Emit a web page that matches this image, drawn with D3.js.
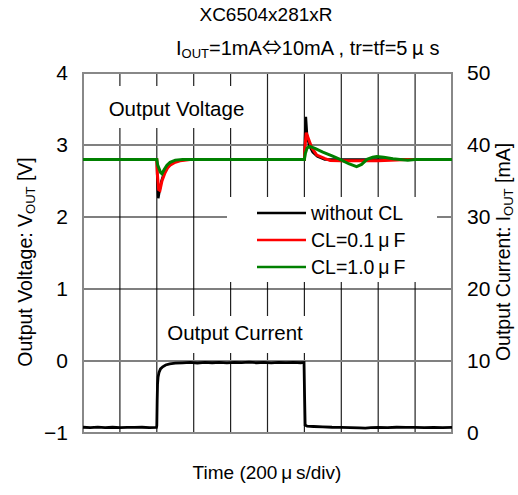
<!DOCTYPE html>
<html><head><meta charset="utf-8">
<script src="https://cdn.jsdelivr.net/npm/d3@7"></script>
<style>
html,body{margin:0;padding:0;background:#fff;}
text{font-family:"Liberation Sans","Noto Sans CJK JP",sans-serif;fill:#000;}
.cjk{font-family:"Noto Sans CJK JP",sans-serif;}
</style></head>
<body>
<svg id="chart" width="518" height="495"></svg>
<script>
// ---- data ----
const voltTicks = [-1, 0, 1, 2, 3, 4];
const currTicks = [0, 10, 20, 30, 40, 50];
const divTimes = [200, 400, 600, 800, 1000, 1200, 1400, 1600, 1800]; // us

const blackT = [0,400,403,408,414,425,440,460,490,530,580,1200,1203,1208,1214,1225,1245,1270,1310,2000];
const blackV = [2.8,2.8,2.5,2.26,2.35,2.5,2.62,2.7,2.76,2.79,2.8,2.8,3.1,3.39,3.15,3.0,2.9,2.84,2.8,2.8];

const redT = [0,400,403,410,417,428,444,458,472,500,526,580,1200,1204,1210,1220,1240,1267,1312,1340,1400,1600,1700,1750,2000];
const redV = [2.8,2.8,2.6,2.38,2.37,2.5,2.61,2.68,2.72,2.76,2.78,2.8,2.8,3.0,3.17,3.1,2.96,2.86,2.81,2.785,2.78,2.78,2.79,2.8,2.8];

const greenT = [0,400,405,420,428,440,455,472,500,540,1200,1205,1215,1230,1260,1300,1350,1393,1440,1483,1510,1539,1570,1592,1630,1680,1718,1760,1800,2000];
const greenV = [2.8,2.8,2.72,2.62,2.6,2.66,2.72,2.76,2.79,2.8,2.8,2.88,2.96,2.98,2.95,2.9,2.85,2.8,2.74,2.7,2.73,2.8,2.83,2.84,2.83,2.81,2.8,2.79,2.8,2.8];

const currT = [0,40,80,120,160,200,240,280,320,360,398,400,402,404,407,412,420,432,448,470,500,540,580,620,660,700,740,780,820,860,900,940,980,1020,1060,1100,1140,1180,1198,1201,1204,1215,1250,1300,1350,1400,1450,1500,1530,1560,1600,1650,1700,1750,1800,1850,1900,1950,2000];
const currI = [0.8,0.75,0.82,0.76,0.8,0.74,0.79,0.77,0.8,0.76,0.78,1.0,4.5,6.8,7.8,8.4,8.9,9.2,9.45,9.6,9.7,9.75,9.8,9.72,9.8,9.76,9.82,9.74,9.8,9.77,9.83,9.76,9.8,9.74,9.82,9.78,9.8,9.76,9.8,5,1.1,0.95,0.9,0.85,0.8,0.78,0.75,0.72,0.68,0.74,0.78,0.76,0.8,0.77,0.79,0.75,0.78,0.76,0.78];

const legendNames = ["without CL", "CL=0.1\u2009\u03BC\u2009F", "CL=1.0\u2009\u03BC\u2009F"];
const legendColors = ["#000000", "#ff0000", "#008000"];

// ---- chart ----
const svg = d3.select("#chart");
const L = 83, R = 452, T = 73, B = 433;
const x = d3.scaleLinear().domain([0, 2000]).range([L, R]);
const yV = d3.scaleLinear().domain([-1, 4]).range([B, T]);
const yI = d3.scaleLinear().domain([0, 50]).range([B, T]);

// grid
const g = svg.append("g");
g.selectAll("line.v").data(divTimes).join("line")
  .attr("x1", d => x(d)).attr("x2", d => x(d)).attr("y1", T).attr("y2", B)
  .attr("stroke", "#222").attr("stroke-width", 1.2);
g.selectAll("line.h").data([0, 1, 2, 3]).join("line")
  .attr("x1", L).attr("x2", R).attr("y1", d => yV(d)).attr("y2", d => yV(d))
  .attr("stroke", d => (d === 0 || d === 3) ? "#808080" : "#000")
  .attr("stroke-width", d => (d === 0 || d === 3) ? 1.8 : 1.1);

// label boxes (white)
svg.append("rect").attr("x", 103).attr("y", 86).attr("width", 147).attr("height", 42).attr("fill", "#fff");
svg.append("rect").attr("x", 160).attr("y", 316).attr("width", 150).attr("height", 37).attr("fill", "#fff");
svg.append("rect").attr("x", 227).attr("y", 197).attr("width", 210).attr("height", 85).attr("fill", "#fff");

// border
svg.append("rect").attr("x", L).attr("y", T).attr("width", R - L).attr("height", B - T)
  .attr("fill", "none").attr("stroke", "#888").attr("stroke-width", 2);

// axes (labels only)
const axL = d3.axisLeft(yV).tickValues(voltTicks).tickSize(0).tickPadding(15)
  .tickFormat(d => d < 0 ? "\u2212" + Math.abs(d) : d);
svg.append("g").attr("transform", `translate(${L},0)`).call(axL)
  .call(s => s.select(".domain").remove())
  .selectAll("text").attr("font-size", 21).attr("font-family", "Liberation Sans");
const axR = d3.axisRight(yI).tickValues(currTicks).tickSize(0).tickPadding(15);
svg.append("g").attr("transform", `translate(${R},0)`).call(axR)
  .call(s => s.select(".domain").remove())
  .selectAll("text").attr("font-size", 21).attr("font-family", "Liberation Sans");

// lines
const lineV = (tt, vv) => d3.line().x((d, i) => x(tt[i])).y((d, i) => yV(vv[i]))(vv);
svg.append("path").attr("d", lineV(blackT, blackV)).attr("fill", "none").attr("stroke", "#000").attr("stroke-width", 2.5);
svg.append("path").attr("d", lineV(redT, redV)).attr("fill", "none").attr("stroke", "#ff0000").attr("stroke-width", 3);
svg.append("path").attr("d", lineV(greenT, greenV)).attr("fill", "none").attr("stroke", "#008000").attr("stroke-width", 3);
const lineI = d3.line().x((d, i) => x(currT[i])).y((d, i) => yI(currI[i]));
svg.append("path").attr("d", lineI(currI)).attr("fill", "none").attr("stroke", "#000").attr("stroke-width", 2.8);

// in-plot labels
svg.append("text").attr("x", 176.5).attr("y", 116).attr("text-anchor", "middle").attr("font-size", 20.5).text("Output Voltage");
svg.append("text").attr("x", 235).attr("y", 340).attr("text-anchor", "middle").attr("font-size", 20.5).text("Output Current");

// legend
const lg = svg.append("g");
legendNames.forEach((n, i) => {
  const yy = 213 + i * 27;
  lg.append("line").attr("x1", 257).attr("x2", 306).attr("y1", yy).attr("y2", yy)
    .attr("stroke", legendColors[i]).attr("stroke-width", 2.5);
  lg.append("text").attr("x", 311).attr("y", yy + 7).attr("font-size", 19.5).text(n);
});

// titles
svg.append("text").attr("x", 266).attr("y", 21).attr("text-anchor", "middle").attr("font-size", 19).text("XC6504x281xR");
const sub = svg.append("text").attr("x", 176).attr("y", 55).attr("font-size", 20);
sub.append("tspan").text("I");
sub.append("tspan").attr("font-size", 13).attr("dy", 3).text("OUT");
sub.append("tspan").attr("dy", -3).text("=1mA");
sub.append("tspan").attr("class", "cjk").text("\u21D4");
sub.append("tspan").text("10mA , tr=tf=5\u2009");
sub.append("tspan").attr("class", "cjk").text("\u03BC");
sub.append("tspan").text(" s");

svg.append("text").attr("x", 267).attr("y", 479).attr("text-anchor", "middle").attr("font-size", 19)
  .text("Time (200\u2009\u03BC\u2009s/div)");

const yl = svg.append("text").attr("transform", "translate(32,262) rotate(-90)").attr("text-anchor", "middle").attr("font-size", 19.5);
yl.append("tspan").text("Output Voltage: V");
yl.append("tspan").attr("font-size", 13).attr("dy", 3).text("OUT");
yl.append("tspan").attr("dy", -3).text(" [V]");

const yr = svg.append("text").attr("transform", "translate(510,252) rotate(-90)").attr("text-anchor", "middle").attr("font-size", 19.5);
yr.append("tspan").text("Output Current: I");
yr.append("tspan").attr("font-size", 13).attr("dy", 3).text("OUT");
yr.append("tspan").attr("dy", -3).text(" [mA]");
</script>
</body></html>
